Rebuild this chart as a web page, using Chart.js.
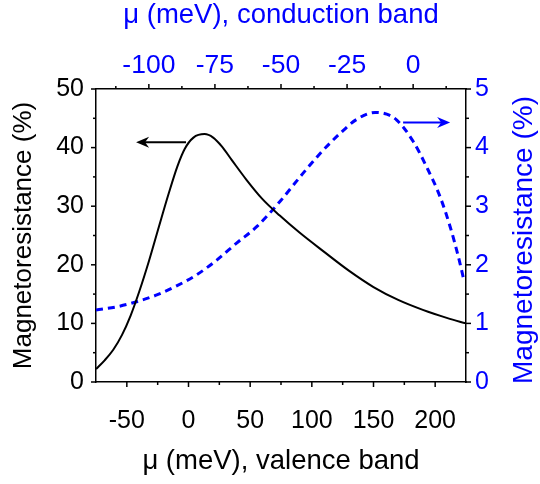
<!DOCTYPE html>
<html>
<head>
<meta charset="utf-8">
<script src="https://cdn.jsdelivr.net/npm/chart.js@4.4.0/dist/chart.umd.min.js"></script>
<style>
  html, body { margin: 0; padding: 0; background: #fff; }
  #wrap { width: 540px; height: 484px; }
</style>
</head>
<body>
<div id="wrap"><canvas id="mrChart"></canvas></div>
<script>
// valence band curve: bottom axis (meV) vs left axis (%)
const valenceMu = [-75, -68, -61, -54, -47, -40, -32, -24, -16, -9, -3, 4, 13, 20, 27, 35, 47, 60, 74, 90, 110, 130, 150, 170, 190, 210, 225];
const valenceMR = [2.2, 3.7, 5.5, 8.0, 11.3, 15.4, 20.7, 26.5, 32.2, 36.8, 39.8, 41.7, 42.3, 41.7, 40.2, 37.9, 34.5, 31.2, 28.4, 25.5, 22.2, 19.0, 16.2, 14.0, 12.3, 10.9, 10.0];

// conduction band curve: top axis (meV) vs right axis (%)
const conductionMu = [-120, -112, -104.6, -97, -89.5, -81.9, -74.3, -66.8, -59.2, -50.4, -42.8, -35.2, -27.7, -21.4, -14.4, -10, -6.2, 0.1, 5.1, 10.2, 14, 17.1, 19.3];
const conductionMR = [1.23, 1.285, 1.37, 1.485, 1.64, 1.83, 2.08, 2.37, 2.65, 3.08, 3.5, 3.9, 4.24, 4.48, 4.6, 4.57, 4.47, 4.1, 3.67, 3.16, 2.65, 2.14, 1.72];

// tick values
const bottomTicks = [-50, 0, 50, 100, 150, 200];
const bottomMinor = [-25, 25, 75, 125, 175];
const topTicks = [-100, -75, -50, -25, 0];
const topMinor = [-112.5, -87.5, -62.5, -37.5, -12.5, 12.5];
const leftTicks = [0, 10, 20, 30, 40, 50];
const leftMinor = [5, 15, 25, 35, 45];
const rightTicks = [0, 1, 2, 3, 4, 5];
const rightMinor = [0.5, 1.5, 2.5, 3.5, 4.5];

// arrows pointing to each curve's axis, in data units
const valenceArrow = { x1: -2, x2: -42.5, y: 40.9 };
const conductionArrow = { x1: -3.8, x2: 14.0, y: 4.43 };

const BLUE = '#0000ff';
const FONT = '"Liberation Sans", Arial, sans-serif';

const toPoints = (xs, ys) => xs.map((x, i) => ({ x: x, y: ys[i] }));

const setTicks = values => scale => { scale.ticks = values.map(v => ({ value: v })); };
const fixSize = (prop, size) => scale => { scale[prop] = size; };

const tickMarks = {
  id: 'tickMarks',
  afterDraw(chart) {
    const { ctx, scales } = chart;
    ctx.save();
    ctx.strokeStyle = '#000';
    ctx.lineWidth = 1.5;
    const marks = (scale, values, len) => {
      values.forEach(v => {
        const p = scale.getPixelForValue(v);
        ctx.beginPath();
        if (scale.position === 'bottom') { ctx.moveTo(p, scale.top); ctx.lineTo(p, scale.top + len); }
        if (scale.position === 'top') { ctx.moveTo(p, scale.bottom); ctx.lineTo(p, scale.bottom - len); }
        if (scale.position === 'left') { ctx.moveTo(scale.right, p); ctx.lineTo(scale.right - len, p); }
        if (scale.position === 'right') { ctx.moveTo(scale.left, p); ctx.lineTo(scale.left + len, p); }
        ctx.stroke();
      });
    };
    marks(scales.x, bottomTicks, 5);
    marks(scales.x, bottomMinor, 3);
    marks(scales.x2, topTicks, 5);
    marks(scales.x2, topMinor, 3);
    marks(scales.y, leftTicks, 5);
    marks(scales.y, leftMinor, 3);
    marks(scales.y2, rightTicks, 5);
    marks(scales.y2, rightMinor, 3);

    // arrows
    const arrow = (xs, ys, a, color) => {
      const px1 = xs.getPixelForValue(a.x1);
      const px2 = xs.getPixelForValue(a.x2);
      const py = ys.getPixelForValue(a.y);
      const dir = Math.sign(px2 - px1);
      ctx.strokeStyle = color;
      ctx.fillStyle = color;
      ctx.lineWidth = 2;
      ctx.beginPath();
      ctx.moveTo(px1, py);
      ctx.lineTo(px2 - dir * 8, py);
      ctx.stroke();
      ctx.beginPath();
      ctx.moveTo(px2, py);
      ctx.lineTo(px2 - dir * 13, py - 5.5);
      ctx.lineTo(px2 - dir * 9, py);
      ctx.lineTo(px2 - dir * 13, py + 5.5);
      ctx.closePath();
      ctx.fill();
    };
    arrow(scales.x, scales.y, valenceArrow, '#000');
    arrow(scales.x2, scales.y2, conductionArrow, BLUE);

    // right axis title, reading bottom to top
    ctx.fillStyle = BLUE;
    ctx.font = '28px ' + FONT;
    ctx.textAlign = 'center';
    ctx.textBaseline = 'middle';
    ctx.translate(524, 240);
    ctx.rotate(-Math.PI / 2);
    ctx.fillText('Magnetoresistance (%)', 0, 0);
    ctx.restore();
  }
};

const border = { display: true, color: '#000', width: 1.5 };
const noGrid = { display: false, drawTicks: false };

new Chart(document.getElementById('mrChart'), {
  type: 'line',
  data: {
    datasets: [
      {
        label: 'valence band',
        data: toPoints(valenceMu, valenceMR),
        xAxisID: 'x',
        yAxisID: 'y',
        borderColor: '#000',
        borderWidth: 2,
        pointRadius: 0,
        fill: false,
        cubicInterpolationMode: 'monotone'
      },
      {
        label: 'conduction band',
        data: toPoints(conductionMu, conductionMR),
        xAxisID: 'x2',
        yAxisID: 'y2',
        borderColor: BLUE,
        borderWidth: 3,
        borderDash: [7, 5],
        pointRadius: 0,
        fill: false,
        cubicInterpolationMode: 'monotone'
      }
    ]
  },
  options: {
    responsive: true,
    maintainAspectRatio: false,
    animation: false,
    layout: { padding: 0 },
    plugins: { legend: { display: false }, tooltip: { enabled: false } },
    scales: {
      x: {
        type: 'linear', position: 'bottom', min: -75, max: 225,
        grid: noGrid, border: border,
        afterBuildTicks: setTicks(bottomTicks),
        afterFit: fixSize('height', 102),
        ticks: { color: '#000', font: { size: 25, family: FONT }, padding: 24, autoSkip: false, maxRotation: 0 },
        title: { display: true, text: 'μ (meV), valence band', color: '#000', font: { size: 27.5, family: FONT }, padding: { top: 0, bottom: 6 } }
      },
      x2: {
        type: 'linear', position: 'top', min: -120, max: 20,
        grid: noGrid, border: border,
        afterBuildTicks: setTicks(topTicks),
        afterFit: fixSize('height', 89),
        ticks: { color: BLUE, font: { size: 26.5, family: FONT }, padding: 7, autoSkip: false, maxRotation: 0 },
        title: { display: true, text: 'μ (meV), conduction band', color: BLUE, font: { size: 27.5, family: FONT }, padding: { top: -1, bottom: 0 } }
      },
      y: {
        type: 'linear', position: 'left', min: 0, max: 50,
        grid: noGrid, border: border,
        afterBuildTicks: setTicks(leftTicks),
        afterFit: fixSize('width', 96),
        ticks: { color: '#000', font: { size: 25, family: FONT }, padding: 12, autoSkip: false },
        title: { display: true, text: 'Magnetoresistance (%)', color: '#000', font: { size: 26, family: FONT }, padding: { top: 8, bottom: 0 } }
      },
      y2: {
        type: 'linear', position: 'right', min: 0, max: 5,
        grid: noGrid, border: border,
        afterBuildTicks: setTicks(rightTicks),
        afterFit: fixSize('width', 74),
        ticks: { color: BLUE, font: { size: 25, family: FONT }, padding: 9, autoSkip: false }
      }
    }
  },
  plugins: [tickMarks]
});
</script>
</body>
</html>
